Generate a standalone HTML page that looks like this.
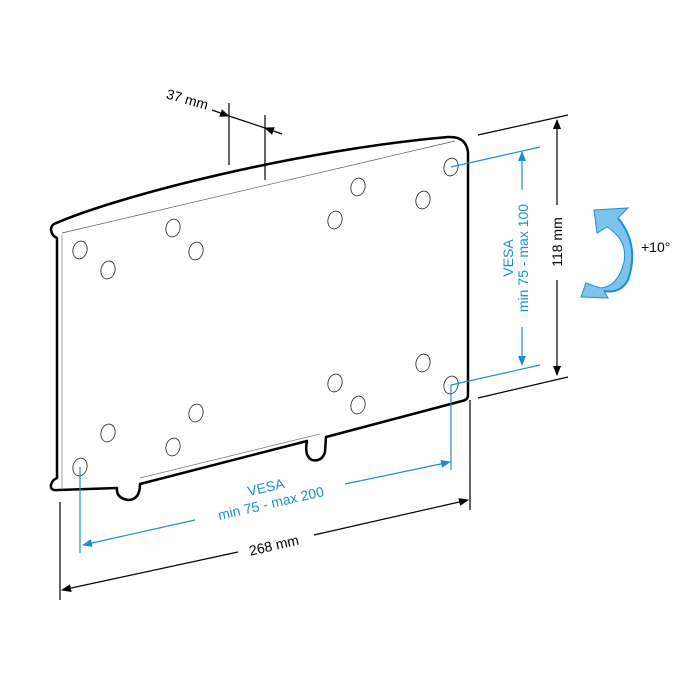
<!DOCTYPE html>
<html><head><style>html,body{margin:0;padding:0;background:#fff}svg{display:block}</style></head><body>
<svg width="700" height="700" viewBox="0 0 700 700" xmlns="http://www.w3.org/2000/svg" font-family="'Liberation Sans', sans-serif">
<defs>
<marker id="ab" markerWidth="10" markerHeight="8" refX="9" refY="4" orient="auto" markerUnits="userSpaceOnUse"><path d="M0,0 L10,4 L0,8 Z" fill="#000"/></marker>
<marker id="bb" markerWidth="10" markerHeight="8" refX="9" refY="4" orient="auto" markerUnits="userSpaceOnUse"><path d="M0,0 L10,4 L0,8 Z" fill="#1a8fd0"/></marker>
</defs>
<path d="M54,224 C120,195 300,150 448,137 Q466,136 468,152 L468,395 Q468,400 462,401 L326,437 L325,452 Q322,462 312,460 Q304,456 307,441 L140,484 Q140,500 128,500 Q116,498 117,488 L58,490 Q50,491 51,485 Q52,480 57,478 L57,238 Q52,236 51,230 Q51,226 54,224 Z" fill="#fff" stroke="#000" stroke-width="2.5" stroke-linejoin="round"/>
<path d="M62,233 L455,141" stroke="#555" stroke-width="0.7" fill="none"/>
<path d="M62,488 L62,235" stroke="#777" stroke-width="0.7"/>
<path d="M140,478 L320,434" stroke="#777" stroke-width="0.7"/>
<g fill="#fff" stroke="#333" stroke-width="0.9">
<ellipse cx="80" cy="250" rx="7" ry="9" transform="rotate(15 80 250)"/>
<ellipse cx="108" cy="270" rx="7" ry="9" transform="rotate(15 108 270)"/>
<ellipse cx="173" cy="228" rx="7" ry="9" transform="rotate(15 173 228)"/>
<ellipse cx="196" cy="251" rx="7" ry="9" transform="rotate(15 196 251)"/>
<ellipse cx="335" cy="220" rx="7" ry="9" transform="rotate(15 335 220)"/>
<ellipse cx="358" cy="187" rx="7" ry="9" transform="rotate(15 358 187)"/>
<ellipse cx="423" cy="200" rx="7" ry="9" transform="rotate(15 423 200)"/>
<ellipse cx="451" cy="167" rx="7" ry="9" transform="rotate(15 451 167)"/>
<ellipse cx="423" cy="363" rx="7" ry="9" transform="rotate(15 423 363)"/>
<ellipse cx="451" cy="385" rx="7" ry="9" transform="rotate(15 451 385)"/>
<ellipse cx="335" cy="383" rx="7" ry="9" transform="rotate(15 335 383)"/>
<ellipse cx="358" cy="405" rx="7" ry="9" transform="rotate(15 358 405)"/>
<ellipse cx="196" cy="413" rx="7" ry="9" transform="rotate(15 196 413)"/>
<ellipse cx="173" cy="447" rx="7" ry="9" transform="rotate(15 173 447)"/>
<ellipse cx="108" cy="433" rx="7" ry="9" transform="rotate(15 108 433)"/>
<ellipse cx="80" cy="467" rx="7" ry="9" transform="rotate(15 80 467)"/>
</g>
<g stroke="#000" stroke-width="1.2">
<line x1="229" y1="103" x2="229" y2="165"/>
<line x1="265" y1="115" x2="265" y2="180"/>
<line x1="212" y1="110" x2="229" y2="116" marker-end="url(#ab)"/>
<line x1="229" y1="116" x2="265" y2="128"/>
<line x1="282" y1="134" x2="265" y2="128" marker-end="url(#ab)"/>
</g>
<text x="186" y="104" font-size="14" transform="rotate(16 186 104)" text-anchor="middle">37 mm</text>
<g stroke="#000" stroke-width="1.2">
<line x1="478" y1="135" x2="568" y2="115"/>
<line x1="478" y1="398" x2="568" y2="377"/>
<line x1="557" y1="205" x2="557" y2="120" marker-end="url(#ab)"/>
<line x1="557" y1="280" x2="557" y2="375" marker-end="url(#ab)"/>
</g>
<text x="562" y="242" font-size="14" transform="rotate(-90 562 242)" text-anchor="middle">118 mm</text>
<g stroke="#1a8fd0" stroke-width="1.2">
<line x1="451" y1="167" x2="540" y2="147"/>
<line x1="451" y1="385" x2="540" y2="365"/>
<line x1="522" y1="190" x2="522" y2="152" marker-end="url(#bb)"/>
<line x1="522" y1="327" x2="522" y2="365" marker-end="url(#bb)"/>
<line x1="451" y1="385" x2="451" y2="470"/>
<line x1="80" y1="467" x2="80" y2="553"/>
<line x1="195" y1="520" x2="83" y2="545" marker-end="url(#bb)"/>
<line x1="345" y1="484" x2="450" y2="462" marker-end="url(#bb)"/>
</g>
<g fill="#1a8fd0" font-size="14" text-anchor="middle">
<text x="513" y="258" transform="rotate(-90 513 258)">VESA</text>
<text x="528" y="258" transform="rotate(-90 528 258)">min 75 - max 100</text>
<text x="267" y="492" transform="rotate(-13 267 492)">VESA</text>
<text x="272" y="508" transform="rotate(-13 272 508)">min 75 - max 200</text>
</g>
<g stroke="#000" stroke-width="1.2">
<line x1="60" y1="502" x2="60" y2="600"/>
<line x1="470" y1="400" x2="470" y2="510"/>
<line x1="238" y1="552" x2="62" y2="590" marker-end="url(#ab)"/>
<line x1="314" y1="535" x2="468" y2="500" marker-end="url(#ab)"/>
</g>
<text x="275" y="550" font-size="14" transform="rotate(-13 275 550)" text-anchor="middle">268 mm</text>
<path d="M594,210 L628,208 L618,218 Q640,245 628,280 Q620,294 604,291 L608,298 L581,297 L586,283 L600,288 Q618,287 624,262 Q628,240 607,227 L597,233 Z" fill="#7cc4ee" stroke="#1a8fd0" stroke-width="1"/>
<path d="M618,218 Q640,245 628,280 Q620,294 604,291" fill="none" stroke="#1a8fd0" stroke-width="2"/>
<text x="641" y="252" font-size="14">+10°</text>
</svg>
</body></html>
